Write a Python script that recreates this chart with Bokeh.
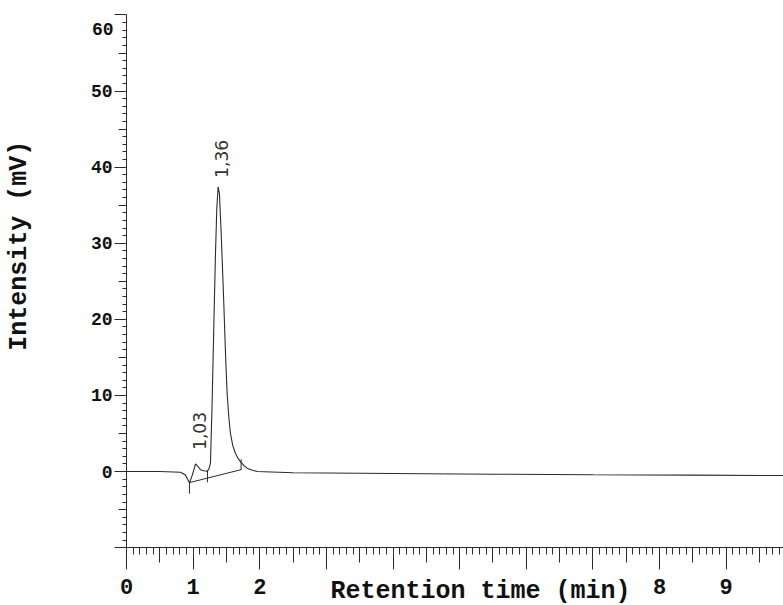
import math
from bokeh.plotting import figure
from bokeh.models import FixedTicker, Label, Range1d, ColumnDataSource, LinearAxis
from bokeh.embed import file_html
from bokeh.resources import INLINE
from bokeh.core.properties import value

# ---- chromatogram trace (retention time in min, intensity in mV) ----
time_min = [0.0, 0.5, 0.81, 0.885, 0.945, 0.99, 1.035, 1.07, 1.11, 1.16, 1.21,
            1.235, 1.26, 1.285, 1.31, 1.335, 1.355, 1.375, 1.395, 1.42, 1.455,
            1.49, 1.51, 1.535, 1.56, 1.595, 1.634, 1.67, 1.71, 1.76, 1.81,
            1.88, 1.96, 2.5, 4.0, 5.5, 7.0, 8.5, 9.86]
intensity_mv = [0.0, 0.0, -0.1, -0.45, -1.5, -0.4, 1.0, 0.7, 0.25, 0.1, 0.05,
                0.3, 1.1, 9.0, 19.0, 28.5, 34.5, 37.4, 36.5, 31.5, 23.4,
                14.5, 10.3, 7.2, 5.0, 3.4, 2.4, 1.8, 1.3, 0.8, 0.45,
                0.2, 0.0, -0.15, -0.25, -0.35, -0.42, -0.47, -0.52]

# integration baseline and peak-boundary marks
baseline_t = [0.945, 1.72]
baseline_v = [-1.45, 0.25]
mark_t = [0.945, 1.215, 1.72]
mark_v0 = [-2.9, -1.4, 0.2]
mark_v1 = [-1.3, 0.1, 1.6]

# peak retention-time annotations
peak_label_t = [1.095, 1.425]
peak_label_v = [2.85, 38.6]
peak_label_text = ["1,03", "1,36"]

# axis ticks
x_start, x_end = 0, 9.86
y_start, y_end = -10, 60
x_major = [0, 1, 2, 3, 4, 5, 6, 7, 8, 9]
x_labels = {0: "0", 1: "1", 2: "2", 3: "", 4: "", 5: "", 6: "", 7: "", 8: "8", 9: "9"}
x_mid = [0.5, 1.5, 2.5, 3.5, 4.5, 5.5, 6.5, 7.5, 8.5, 9.5]
y_major = [-10, 0, 10, 20, 30, 40, 50, 60]
y_labels = {-10: "", 0: "0", 10: "10", 20: "20", 30: "30", 40: "40", 50: "50", 60: ""}
y_mid = [-5, 5, 15, 25, 35, 45, 55]
top_label = "60"

x_minor = [i / 10 for i in range(0, 99)]
y_minor = list(range(-10, 61))

ink = "#2b2b2b"
label_ink = "#111111"

p = figure(width=783, height=605,
           x_range=Range1d(-1.891, 9.86), y_range=Range1d(-17.6, 61.9),
           output_backend="svg", toolbar_location=None, title=None,
           min_border=0)
p.outline_line_color = None
p.grid.visible = False
p.background_fill_color = "white"
p.border_fill_color = "white"

src = ColumnDataSource(dict(t=time_min, v=intensity_mv))
p.line("t", "v", source=src, line_color=ink, line_width=1.1)
p.line(baseline_t, baseline_v, line_color=ink, line_width=1)
p.segment(x0=mark_t, y0=mark_v0, x1=mark_t, y1=mark_v1, line_color=ink, line_width=1)

p.text(x=peak_label_t, y=peak_label_v, text=peak_label_text,
       angle=math.pi / 2, text_align="left", text_baseline="middle",
       text_font=value("DejaVu Sans"), text_font_size="17px", text_color="#333333")

# x axis (main)
xa = p.xaxis[0]
xa.fixed_location = y_start
xa.bounds = (x_start, x_end)
xa.ticker = FixedTicker(ticks=x_major, minor_ticks=x_minor)
xa.major_label_overrides = x_labels
xa.major_tick_out = 22
xa.major_tick_in = 0
xa.minor_tick_out = 7
xa.minor_tick_in = 0
xa.axis_line_color = ink
xa.major_tick_line_color = ink
xa.minor_tick_line_color = ink
xa.major_label_text_font = "Liberation Mono"
xa.major_label_text_font_style = "bold"
xa.major_label_text_font_size = "22px"
xa.major_label_text_color = label_ink
xa.major_label_standoff = 9

# x axis half-minute ticks
xm = LinearAxis(fixed_location=y_start, bounds=(x_start, x_end),
                ticker=FixedTicker(ticks=x_mid), axis_line_color=None,
                major_tick_out=15, major_tick_in=0, minor_tick_out=0, minor_tick_in=0,
                major_tick_line_color=ink, major_label_text_font_size="0px",
                major_label_text_color=None)
p.add_layout(xm, "below")

# y axis (main)
ya = p.yaxis[0]
ya.fixed_location = x_start
ya.bounds = (y_start, y_end)
ya.ticker = FixedTicker(ticks=y_major, minor_ticks=y_minor)
ya.major_label_overrides = y_labels
ya.major_tick_out = 12
ya.major_tick_in = 0
ya.minor_tick_out = 4
ya.minor_tick_in = 0
ya.axis_line_color = ink
ya.major_tick_line_color = ink
ya.minor_tick_line_color = ink
ya.major_label_text_font = "Liberation Mono"
ya.major_label_text_font_style = "bold"
ya.major_label_text_font_size = "18px"
ya.major_label_text_color = label_ink
ya.major_label_standoff = 2

ym = LinearAxis(fixed_location=x_start, bounds=(y_start, y_end),
                ticker=FixedTicker(ticks=y_mid), axis_line_color=None,
                major_tick_out=8, major_tick_in=0, minor_tick_out=0, minor_tick_in=0,
                major_tick_line_color=ink, major_label_text_font_size="0px",
                major_label_text_color=None)
p.add_layout(ym, "left")

# top tick label, printed just inside the top of the axis as in the original
p.add_layout(Label(x=-0.195, y=58.2, text=top_label,
                   text_font="Liberation Mono", text_font_style="bold",
                   text_font_size="18px", text_color=label_ink,
                   text_align="right", text_baseline="middle"))

# axis titles
p.add_layout(Label(x=3.06, y=-15.7, text="Retention time (min)",
                   text_font="Liberation Mono", text_font_style="bold",
                   text_font_size="25px", text_color=label_ink,
                   text_align="left", text_baseline="middle"))
p.add_layout(Label(x=-1.603, y=29.66, text="Intensity (mV)", angle=math.pi / 2,
                   text_font="Liberation Mono", text_font_style="bold",
                   text_font_size="25px", text_color=label_ink,
                   text_align="center", text_baseline="middle"))

open("out.html", "w").write(file_html(p, INLINE))
